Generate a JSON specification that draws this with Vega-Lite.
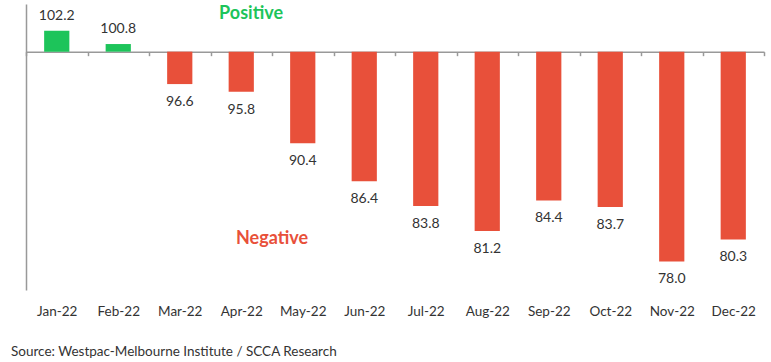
{
  "$schema": "https://vega.github.io/schema/vega-lite/v6.json",
  "autosize": "none",
  "width": 738,
  "height": 286,
  "padding": {"left": 26, "top": 4, "right": 7, "bottom": 72},
  "background": "white",
  "config": {"view": {"stroke": null}, "font": "Lato"},
  "title": {
    "text": "Source: Westpac-Melbourne Institute / SCCA Research",
    "orient": "bottom",
    "anchor": "start",
    "frame": "group",
    "fontSize": 13.5,
    "fontWeight": "normal",
    "color": "#333333",
    "font": "Lato",
    "offset": 27,
    "dx": -15
  },
  "datasets": {
    "main": [
      {"month": "Jan-22", "value": 102.2},
      {"month": "Feb-22", "value": 100.8},
      {"month": "Mar-22", "value": 96.6},
      {"month": "Apr-22", "value": 95.8},
      {"month": "May-22", "value": 90.4},
      {"month": "Jun-22", "value": 86.4},
      {"month": "Jul-22", "value": 83.8},
      {"month": "Aug-22", "value": 81.2},
      {"month": "Sep-22", "value": 84.4},
      {"month": "Oct-22", "value": 83.7},
      {"month": "Nov-22", "value": 78.0},
      {"month": "Dec-22", "value": 80.3}
    ],
    "notes": [
      {"month": "Apr-22", "value": 104.0, "label": "Positive", "sign": "pos"},
      {"month": "May-22", "value": 80.4, "label": "Negative", "sign": "neg"}
    ]
  },
  "encoding": {
    "x": {
      "field": "month",
      "type": "ordinal",
      "sort": null,
      "scale": {"paddingInner": 0, "paddingOuter": 0},
      "axis": {
        "title": null,
        "orient": "bottom",
        "offset": -238.33,
        "labelAngle": 0,
        "domainColor": "#999999",
        "domainWidth": 1.5,
        "tickColor": "#999999",
        "tickWidth": 1.5,
        "tickSize": 4,
        "tickBand": "extent",
        "labelPadding": 249,
        "labelFont": "Lato",
        "labelFontSize": 13.5,
        "labelColor": "#333333"
      }
    }
  },
  "layer": [
    {
      "data": {"name": "main"},
      "mark": {"type": "bar", "width": {"band": 0.41}},
      "encoding": {
        "y": {
          "field": "value",
          "type": "quantitative",
          "scale": {"domain": [75, 105], "nice": false, "zero": false},
          "axis": {
            "title": null,
            "labels": false,
            "ticks": false,
            "grid": false,
            "domainColor": "#999999",
            "domainWidth": 1.5
          }
        },
        "y2": {"datum": 100},
        "color": {
          "condition": {"test": "datum.value >= 100", "value": "#1DC45A"},
          "value": "#E8503A"
        }
      }
    },
    {
      "data": {"name": "main"},
      "transform": [{"filter": "datum.value >= 100"}],
      "mark": {"type": "text", "baseline": "alphabetic", "dy": -11, "fontSize": 14, "font": "Lato", "color": "#333333"},
      "encoding": {
        "y": {"field": "value", "type": "quantitative"},
        "text": {"field": "value", "type": "quantitative", "format": ".1f"}
      }
    },
    {
      "data": {"name": "main"},
      "transform": [{"filter": "datum.value < 100"}],
      "mark": {"type": "text", "baseline": "alphabetic", "dy": 22, "fontSize": 14, "font": "Lato", "color": "#333333"},
      "encoding": {
        "y": {"field": "value", "type": "quantitative"},
        "text": {"field": "value", "type": "quantitative", "format": ".1f"}
      }
    },
    {
      "data": {"name": "notes"},
      "transform": [{"filter": "datum.sign == 'pos'"}],
      "mark": {"type": "text", "baseline": "middle", "fontSize": 18, "fontWeight": "bold", "font": "Lato", "color": "#1DC45A"},
      "encoding": {
        "x": {"field": "month", "type": "ordinal", "sort": null, "bandPosition": 0.66},
        "y": {"field": "value", "type": "quantitative"},
        "text": {"field": "label"}
      }
    },
    {
      "data": {"name": "notes"},
      "transform": [{"filter": "datum.sign == 'neg'"}],
      "mark": {"type": "text", "baseline": "middle", "fontSize": 18, "fontWeight": "bold", "font": "Lato", "color": "#E8503A"},
      "encoding": {
        "x": {"field": "month", "type": "ordinal", "sort": null, "bandPosition": 0},
        "y": {"field": "value", "type": "quantitative"},
        "text": {"field": "label"}
      }
    }
  ]
}
